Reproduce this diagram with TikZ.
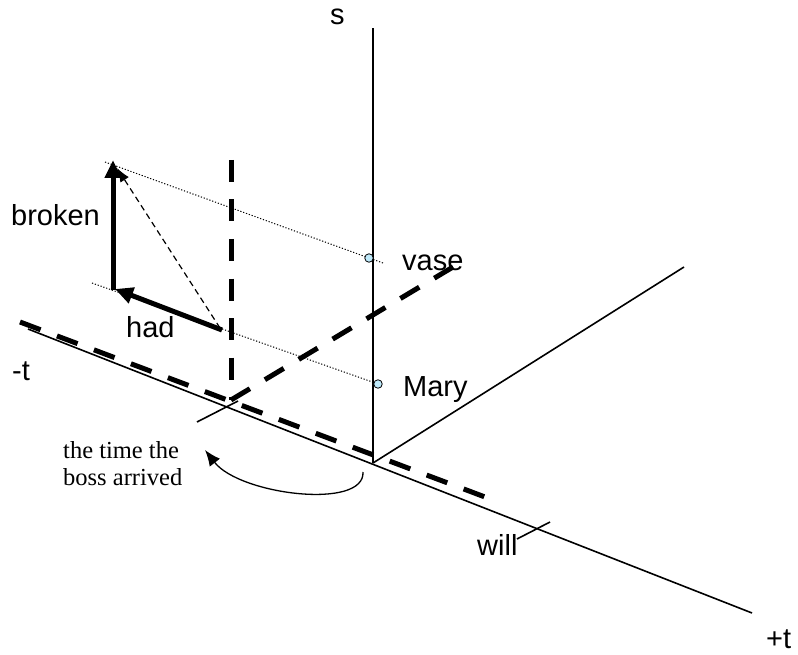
\documentclass[tikz,border=0pt]{standalone}
\usepackage{fontspec}
\setmainfont{Liberation Serif}
\newfontfamily\arialf{Liberation Sans}
\usetikzlibrary{arrows.meta}
\begin{document}
\begin{tikzpicture}[x=1pt,y=-1pt,
  axisline/.style={line width=1.6pt},
  thickdash/.style={line width=5pt, dash pattern=on 22pt off 17.5pt},
  dotline/.style={line width=1pt, dash pattern=on 1.2pt off 1.8pt},
  bigarrow/.style={line width=5pt, -{Triangle[length=18pt,width=16pt]}},
  thinarrow/.style={line width=1.2pt, dash pattern=on 6pt off 4pt, -{Latex[length=14pt,width=10pt]}},
  lbl/.style={font=\arialf\fontsize{29}{31}\selectfont, inner sep=0pt, anchor=base west},
  serif/.style={font=\fontsize{24.5}{27}\selectfont, inner sep=0pt, anchor=base west},
  dotnode/.style={circle, draw, fill=cyan!25, minimum size=8.5pt, inner sep=0pt, line width=0.8pt}]
\useasboundingbox (0,0) rectangle (798,655);
% coordinates
\coordinate (O) at (373,463);
\coordinate (Stop) at (373,28);
\coordinate (Lft) at (28,329);
\coordinate (Rgt) at (752,613);
\coordinate (Ptop) at (684,267);
\coordinate (ShA) at (197,422);
\coordinate (ShB) at (238,401);
\coordinate (WA) at (517,539);
\coordinate (WB) at (550,522);
\coordinate (DL) at (20,322);
\coordinate (DR) at (485,497);
\coordinate (DVt) at (231,160);
\coordinate (DVb) at (231,400);
\coordinate (DD) at (468,258);
\coordinate (Atop) at (113,160);
\coordinate (Acorner) at (113,290);
\coordinate (Atail) at (222,330);
\coordinate (Ahad) at (115,289);
\coordinate (Ttop) at (117,168);
\coordinate (Ttail) at (220,328);
\coordinate (U1) at (105,162);
\coordinate (U2) at (383,263);
\coordinate (L1) at (92,283);
\coordinate (CA) at (363,472);
\coordinate (CB) at (205,450);
% axes
\draw[axisline] (Lft) -- (Rgt);
\draw[axisline] (O) -- (Stop);
\draw[axisline] (O) -- (Ptop);
\draw[axisline] (ShA) -- (ShB);
\draw[axisline] (WA) -- (WB);
% thick dashed
\draw[thickdash] (DL) -- (DR);
\draw[thickdash] (DVt) -- (DVb);
\draw[thickdash] (DVb) -- (DD);
% dotted projections and points
\node[dotnode] (vase) at (369,258) {};
\node[dotnode] (mary) at (378,384) {};
\draw[dotline] (U1) -- (vase) -- (U2);
\draw[dotline] (L1) -- (mary);
% arrows
\draw[bigarrow] (Acorner) -- (Atop);
\draw[bigarrow] (Atail) -- (Ahad);
\draw[thinarrow] (Ttail) -- (Ttop);
\draw[line width=1.3pt, -{Latex[length=16pt,width=13pt]}] (CA) .. controls (365,510) and (240,495) .. (CB);
% labels
\node[lbl] (s) at (330,25) {s};
\node[lbl] (broken) at (11,226) {broken};
\node[lbl] (vaselbl) at (402,270) {vase};
\node[lbl] (marylbl) at (403,396) {Mary};
\node[lbl] (had) at (126,337) {had};
\node[lbl] (mt) at (12,380) {-t};
\node[lbl] (will) at (477,555) {will};
\node[lbl] (pt) at (766,648) {+t};
\node[serif] (ser1) at (63,458) {the time the};
\node[serif] (ser2) at (63,485) {boss arrived};
\end{tikzpicture}
\end{document}
